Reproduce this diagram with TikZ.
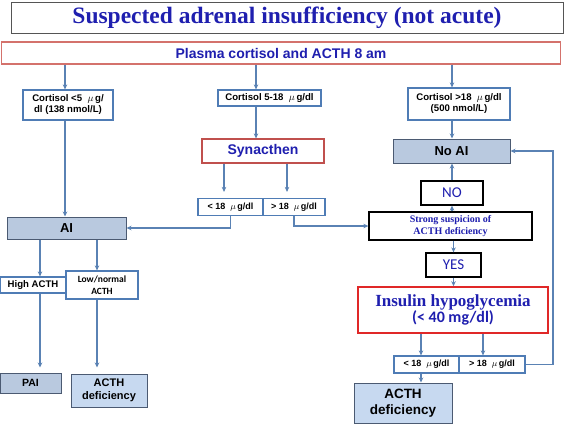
\documentclass[tikz,border=0pt]{standalone}
\usepackage{fontspec}
\setmainfont{Liberation Sans}
\newfontfamily\seriffont{Liberation Serif}
\newfontfamily\calfont{Carlito}
\usepackage{xcolor}
\usepackage{tikz}
\usetikzlibrary{arrows.meta,positioning,calc}
\definecolor{titleblue}{HTML}{1F1FAF}
\definecolor{linkblue}{HTML}{5A82B4}
\definecolor{boxblue}{HTML}{4F7CB5}
\definecolor{aifill}{HTML}{B9C9DF}
\definecolor{aidraw}{HTML}{4B5A72}
\definecolor{deffill}{HTML}{C7D9F0}
\definecolor{plasmared}{HTML}{D4726C}
\definecolor{synred}{HTML}{C0504D}
\definecolor{insred}{HTML}{E02828}
\definecolor{titlegray}{HTML}{555555}

\begin{document}
\begin{tikzpicture}[x=1pt,y=-1pt,
  box/.style={draw=boxblue,line width=1.2pt,fill=white,align=center,inner sep=0pt,font=\bfseries\fontsize{9.6}{11}\selectfont},
  valbox/.style={box,minimum height=17pt,font=\bfseries\fontsize{9}{10}\selectfont},
  ai/.style={box,draw=aidraw,fill=aifill,line width=1pt},
  deficit/.style={box,draw=aidraw,fill=deffill,line width=1pt},
  answer/.style={draw=black,line width=1.3pt,fill=white,inner sep=0pt,align=center,text=titleblue},
  arrow/.style={-{Stealth[length=5pt,width=4.5pt]},line width=1.2pt,draw=linkblue}
]
\useasboundingbox[fill=white] (0,0) rectangle (565,424);
\node[draw=titlegray,line width=1pt,minimum width=552pt,minimum height=31pt,inner sep=0pt,text=titleblue,font=\seriffont\bfseries\fontsize{23.5}{26}\selectfont] (title) at (287,17.5) {Suspected adrenal insufficiency (not acute)};
\node[box,draw=plasmared,line width=1.5pt,minimum width=559pt,minimum height=22pt,text=titleblue,font=\bfseries\fontsize{14}{16}\selectfont] (plasma) at (281,53) {Plasma cortisol and ACTH 8 am};
\node[box,minimum width=90pt,minimum height=30pt] (lowcort) at (68,105) {Cortisol <5 \ $\mu$\,g/\\dl (138 nmol/L)};
\node[box,minimum width=103pt,minimum height=16pt] (midcort) at (269.5,98) {Cortisol 5-18 \ $\mu$\,g/dl};
\node[box,minimum width=102pt,minimum height=32pt] (highcort) at (459,104) {Cortisol >18 \ $\mu$\,g/dl\\(500 nmol/L)};
\node[box,draw=synred,line width=1.2pt,minimum width=122pt,minimum height=24pt,text=titleblue,font=\bfseries\fontsize{14}{16}\selectfont] (synacthen) at (263,151) {Synacthen};
\node[valbox,minimum width=65pt] (synlow) at (230.5,207) {< 18 \ $\mu$\,g/dl};
\node[valbox,minimum width=62pt] (synhigh) at (294,207) {> 18 \ $\mu$\,g/dl};
\node[ai,minimum width=119pt,minimum height=22pt,font=\bfseries\fontsize{13}{15}\selectfont] (ai) at (66.5,228) {AI};
\node[box,minimum width=66pt,minimum height=16pt] (highacth) at (33,285) {High ACTH};
\node[box,minimum width=72pt,minimum height=28pt,font=\calfont\bfseries\fontsize{9.5}{12}\selectfont] (lowacth) at (102,285) {Low/normal\\ACTH};
\node[ai,minimum width=61pt,minimum height=20pt,font=\bfseries\fontsize{10.5}{12}\selectfont] (pai) at (30.5,383) {PAI};
\node[deficit,minimum width=76pt,minimum height=33pt,font=\bfseries\fontsize{11}{12.5}\selectfont] (acthdefa) at (109,390.5) {ACTH\\deficiency};
\node[ai,minimum width=117pt,minimum height=24pt,font=\bfseries\fontsize{13}{15}\selectfont] (noai) at (451.5,151) {No AI};
\node[answer,minimum width=62pt,minimum height=24pt,font=\calfont\fontsize{15}{17}\selectfont] (answerno) at (452,193) {NO};
\node[answer,minimum width=163pt,minimum height=28pt,font=\seriffont\bfseries\fontsize{10}{11.5}\selectfont] (suspicion) at (450.5,226) {Strong suspicion of\\ACTH deficiency};
\node[answer,minimum width=55pt,minimum height=24pt,font=\calfont\fontsize{15}{17}\selectfont] (answeryes) at (453.5,265) {YES};
\node[box,draw=insred,line width=1.6pt,minimum width=190pt,minimum height=46pt,text=titleblue,font=\bfseries] (insulin) at (453,310) {{\seriffont\fontsize{17}{19}\selectfont Insulin hypoglycemia}\\{\calfont\fontsize{16}{19}\selectfont (< 40 mg/dl)}};
\node[valbox,minimum width=65pt] (itlow) at (426.5,364.5) {< 18 \ $\mu$\,g/dl};
\node[valbox,minimum width=66pt] (ithigh) at (492,364.5) {> 18 \ $\mu$\,g/dl};
\node[deficit,minimum width=98pt,minimum height=40pt,font=\bfseries\fontsize{13.5}{16}\selectfont] (acthdefb) at (403,403) {ACTH\\deficiency};
\coordinate (loopcorner) at (553,151);
\draw[arrow] ([xshift=-3pt]lowcort.north |- plasma.south) -- ([xshift=-3pt]lowcort.north);
\draw[arrow] ([xshift=-13.5pt]midcort.north |- plasma.south) -- ([xshift=-13.5pt]midcort.north);
\draw[arrow] ([xshift=-7pt]highcort.north |- plasma.south) -- ([xshift=-7pt]highcort.north);
\draw[arrow] ([xshift=-3pt]lowcort.south) -- ([xshift=-3pt]lowcort.south |- ai.north);
\draw[arrow] ([xshift=-13.5pt]midcort.south) -- ([xshift=-13.5pt]midcort.south |- synacthen.north);
\draw[arrow] ([xshift=-7pt]highcort.south) -- ([xshift=-7pt]highcort.south |- noai.north);
\draw[arrow,shorten >=6pt] ([xshift=-6.5pt]synlow.north |- synacthen.south) -- ([xshift=-6.5pt]synlow.north);
\draw[arrow,shorten >=6pt] ([xshift=-7pt]synhigh.north |- synacthen.south) -- ([xshift=-7pt]synhigh.north);
\draw[arrow] (synlow.south) |- (ai.east);
\draw[arrow] (synhigh.south) |- (suspicion.west);
\draw[arrow] ([xshift=-26.5pt]ai.south) -- ([xshift=-26.5pt]ai.south |- highacth.north);
\draw[arrow] ([xshift=30.5pt]ai.south) -- ([xshift=30.5pt]ai.south |- lowacth.north);
\draw[arrow,shorten >=5pt] ([xshift=7pt]highacth.south) -- ([xshift=7pt]highacth.south |- pai.north);
\draw[arrow,shorten >=6pt] ([xshift=-5pt]lowacth.south) -- ([xshift=-5pt]lowacth.south |- acthdefa.north);
\draw[arrow] (suspicion.north -| answerno.south) -- (answerno.south);
\draw[arrow] (answerno.north) -- (answerno.north |- noai.south);
\draw[arrow] (suspicion.south -| answeryes.north) -- (answeryes.north);
\draw[arrow] (answeryes.south) -- (answeryes.south |- insulin.north);
\draw[arrow] ([xshift=-5.5pt]itlow.north |- insulin.south) -- ([xshift=-5.5pt]itlow.north);
\draw[arrow] ([xshift=-9pt]ithigh.north |- insulin.south) -- ([xshift=-9pt]ithigh.north);
\draw[arrow] ([xshift=-5.5pt]itlow.south) -- ([xshift=-5.5pt]itlow.south |- acthdefb.north);
\draw[arrow] (ithigh.east) -| (loopcorner) -- (noai.east);
\end{tikzpicture}
\end{document}
